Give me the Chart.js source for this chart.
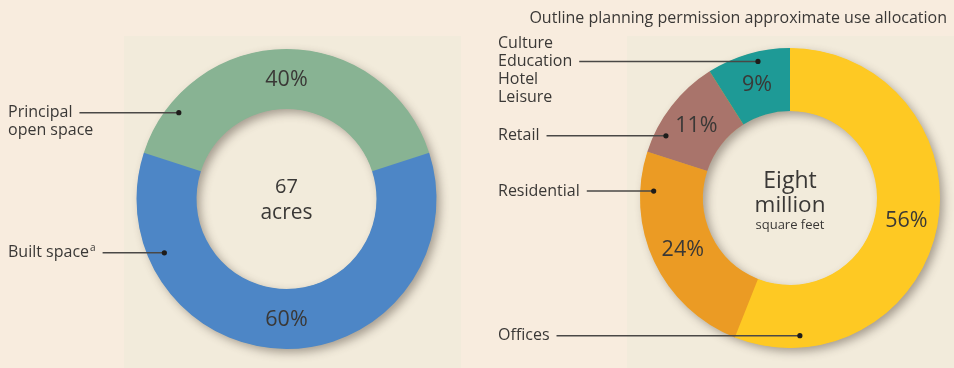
<!DOCTYPE html>
<html>
<head>
<meta charset="utf-8">
<script src="https://cdn.jsdelivr.net/npm/chart.js@4.4.1/dist/chart.umd.min.js"></script>
<style>
  html, body { margin: 0; padding: 0; background: #f8ecde; }
  #wrap { position: relative; width: 954px; height: 368px; overflow: hidden; }
  .panel { position: absolute; background: #f2ebdb; }
  .box { position: absolute; top: 0; width: 477px; height: 368px; }
</style>
</head>
<body>
<div id="wrap">
  <div class="panel" style="left:124px; top:36px; width:337px; height:332px"></div>
  <div class="panel" style="left:627px; top:36px; width:327px; height:332px"></div>
  <div class="box" style="left:0"><canvas id="siteChart" width="477" height="368"></canvas></div>
  <div class="box" style="left:477px"><canvas id="useChart" width="477" height="368"></canvas></div>
</div>
<script>
// site area split (percent of 67 acres)
const siteCategories = ['Principal open space', 'Built space'];
const siteValues = [40, 60];
const siteLabels = [['Principal', 'open space'], ['Built space']];
const siteFootnotes = ['', 'a'];
const siteColors = ['#88b393', '#4d86c6'];

// outline planning permission use allocation (percent of 8m sq ft)
const useCategories = ['Offices', 'Residential', 'Retail', 'Culture, Education, Hotel, Leisure'];
const useValues = [56, 24, 11, 9];
const useLabels = [['Offices'], ['Residential'], ['Retail'], ['Culture', 'Education', 'Hotel', 'Leisure']];
const useFootnotes = ['', '', '', ''];
const useColors = ['#fec923', '#eb9b24', '#a9746b', '#1e9a96'];

const FONT = '"Open Sans", Roboto, sans-serif';
const INK = '#3a3836';
const LABEL_SIZE = 16;

// draws the ring shadow, the percent labels, the centre caption and the leader lines
const ringNotes = {
  id: 'ringNotes',
  beforeDatasetsDraw(chart) {
    const arc = chart.getDatasetMeta(0).data[0];
    const { x, y, innerRadius, outerRadius } = arc.getProps(['x', 'y', 'innerRadius', 'outerRadius'], true);
    const ctx = chart.ctx;
    // plain annulus casts the shadow so slices don't shade each other
    ctx.save();
    ctx.beginPath();
    ctx.arc(x, y, outerRadius - 0.5, 0, Math.PI * 2);
    ctx.arc(x, y, innerRadius + 0.5, 0, Math.PI * 2, true);
    ctx.shadowColor = 'rgba(70, 60, 50, 0.45)';
    ctx.shadowBlur = 10;
    ctx.shadowOffsetX = 4;
    ctx.shadowOffsetY = 4;
    ctx.fillStyle = chart.data.datasets[0].backgroundColor[0];
    ctx.fill();
    ctx.restore();
  },
  afterDatasetsDraw(chart, args, opts) {
    const ctx = chart.ctx;
    const meta = chart.getDatasetMeta(0);
    const first = meta.data[0];
    const { x, y, outerRadius } = first.getProps(['x', 'y', 'outerRadius'], true);
    const values = chart.data.datasets[0].data;

    ctx.save();
    ctx.fillStyle = INK;
    ctx.textBaseline = 'middle';

    // percent in each slice
    ctx.textAlign = 'center';
    ctx.font = '21.5px ' + FONT;
    meta.data.forEach((el, i) => {
      const p = el.tooltipPosition(true);
      ctx.fillText(values[i] + '%', p.x, p.y + 1);
    });

    // centre caption
    opts.centre.forEach(line => {
      ctx.font = line.size + 'px ' + FONT;
      ctx.fillText(line.text, x, y + line.dy);
    });

    // title
    if (opts.title) {
      ctx.textAlign = 'right';
      ctx.font = LABEL_SIZE + 'px ' + FONT;
      ctx.fillText(opts.title.text, opts.title.x, opts.title.y);
    }

    // category labels with leader lines to a dot inside each slice
    ctx.textAlign = 'left';
    ctx.font = LABEL_SIZE + 'px ' + FONT;
    opts.labels.forEach((lines, i) => {
      const a = opts.anchors[i];
      const rad = a.angle * Math.PI / 180;
      const dx = x + Math.sin(rad) * outerRadius * a.r;
      const dy = y - Math.cos(rad) * outerRadius * a.r;
      lines.forEach((t, k) => {
        ctx.fillText(t, opts.textX, dy + (k - a.line) * 18);
      });
      let end = opts.textX + ctx.measureText(lines[a.line]).width;
      const sup = opts.footnotes[i];
      if (sup) {
        ctx.font = '10px ' + FONT;
        ctx.fillText(sup, end + 1, dy - 5);
        end += ctx.measureText(sup).width + 1;
        ctx.font = LABEL_SIZE + 'px ' + FONT;
      }
      ctx.strokeStyle = '#4a4846';
      ctx.lineWidth = 1.5;
      ctx.beginPath();
      ctx.moveTo(end + 7, dy);
      ctx.lineTo(dx, dy);
      ctx.stroke();
      ctx.beginPath();
      ctx.arc(dx, dy, 2.6, 0, Math.PI * 2);
      ctx.fillStyle = '#1e1c1a';
      ctx.fill();
      ctx.fillStyle = INK;
    });
    ctx.restore();
  }
};

function ringChart(id, categories, values, colors, cutout, rotation, padding, notes) {
  return new Chart(document.getElementById(id), {
    type: 'doughnut',
    data: {
      labels: categories,
      datasets: [{
        data: values,
        backgroundColor: colors,
        borderWidth: 0,
        hoverOffset: 0
      }]
    },
    options: {
      responsive: false,
      animation: false,
      cutout: cutout,
      rotation: rotation,
      layout: { padding: padding },
      plugins: {
        legend: { display: false },
        tooltip: { enabled: false },
        ringNotes: notes
      }
    },
    plugins: [ringNotes]
  });
}

// first slice centred on twelve o'clock
const siteRotation = -siteValues[0] / siteValues.reduce((a, b) => a + b, 0) * 180;

ringChart('siteChart', siteCategories, siteValues, siteColors, '60%', siteRotation,
  { left: 136, right: 40, top: 49, bottom: 19 },
  {
    textX: 8,
    labels: siteLabels,
    footnotes: siteFootnotes,
    anchors: [
      { angle: 308.7, r: 0.92, line: 0 },
      { angle: 246.2, r: 0.89, line: 0 }
    ],
    centre: [
      { text: '67', size: 20, dy: -12 },
      { text: 'acres', size: 21, dy: 14 }
    ]
  });

ringChart('useChart', useCategories, useValues, useColors, '58%', 0,
  { left: 163, right: 14, top: 48, bottom: 20 },
  {
    textX: 21,
    labels: useLabels,
    footnotes: useFootnotes,
    anchors: [
      { angle: 175.9, r: 0.92, line: 0 },
      { angle: 272.9, r: 0.91, line: 0 },
      { angle: 296.6, r: 0.925, line: 0 },
      { angle: 346.8, r: 0.935, line: 1 }
    ],
    centre: [
      { text: 'Eight', size: 23, dy: -17 },
      { text: 'million', size: 22.5, dy: 8 },
      { text: 'square feet', size: 13, dy: 27 }
    ],
    title: { text: 'Outline planning permission approximate use allocation', x: 470, y: 18 }
  });
</script>
</body>
</html>
